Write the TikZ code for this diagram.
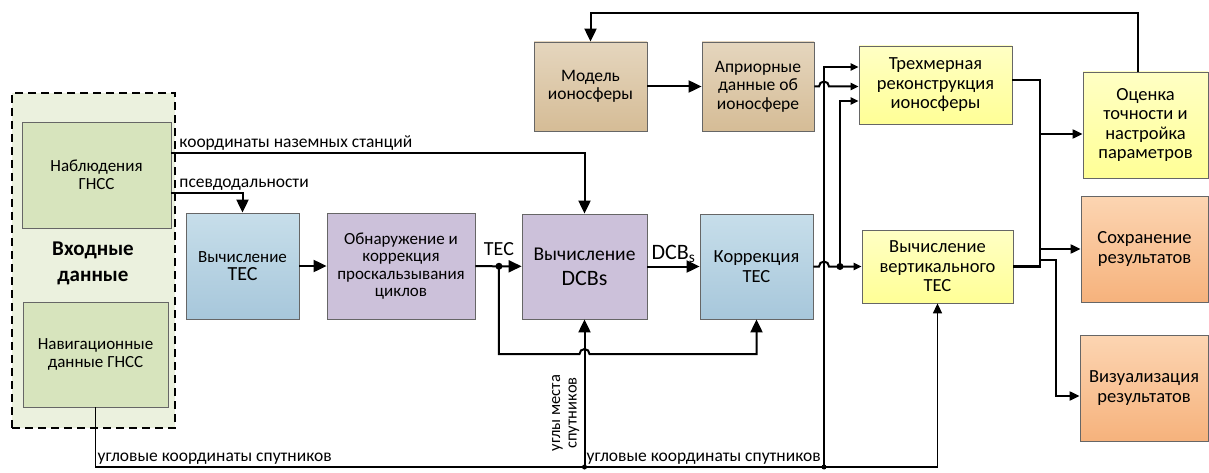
\documentclass[tikz,border=0pt]{standalone}
\usepackage{fontspec}
\setmainfont{Carlito}
\usetikzlibrary{arrows.meta}

\definecolor{zelen}{HTML}{D7E4BD}
\definecolor{zelenfon}{HTML}{EBF1DE}
\definecolor{fiolet}{HTML}{CCC1DA}

\tikzset{
  blok/.style={draw=black!60, line width=0.8pt, inner sep=1pt, align=center, font=\fontsize{17}{17.5}\selectfont},
  blokvr/.style={blok, font=\fontsize{17.5}{18.5}\selectfont},
  blokpr/.style={blok, font=\fontsize{18.5}{19.5}\selectfont},
  goluboy/.style={top color={rgb,255:red,199;green,222;blue,234}, bottom color={rgb,255:red,167;green,199;blue,219}},
  bezh/.style={top color={rgb,255:red,229;green,214;blue,190}, bottom color={rgb,255:red,213;green,188;blue,150}},
  zhelt/.style={top color={rgb,255:red,255;green,255;blue,196}, bottom color={rgb,255:red,255;green,255;blue,150}},
  oranzh/.style={top color={rgb,255:red,252;green,213;blue,178}, bottom color={rgb,255:red,246;green,178;blue,124}},
  strelka/.style={line width=2pt, -{Triangle[length=13pt,width=12pt]}},
  strelkam/.style={line width=2pt, -{Triangle[length=10pt,width=9pt]}},
  strelkas/.style={line width=2pt, -{Triangle[length=8pt,width=7pt]}},
  lbl/.style={font=\fontsize{17.5}{19}\selectfont, inner sep=2pt}
}

\begin{document}
\begin{tikzpicture}[x=1pt,y=-1pt]
      \useasboundingbox (0,0) rectangle (1209,473);
      \node[draw=black, line width=1.2pt, dash pattern=on 8pt off 5pt, fill=zelenfon, minimum width=163pt, minimum height=335pt] (vhod) at (93.5,260.5) {};
      \node[blok, fill=zelen, minimum width=149pt, minimum height=106pt] (nabl) at (96.5,175) {Наблюдения\\ГНСС};
      \node[font=\bfseries\fontsize{21}{26}\selectfont, align=center] (vhodtxt) at (93,263) {Входные\\данные};
      \node[blok, fill=zelen, minimum width=145pt, minimum height=105pt] (nav) at (95.5,354.5) {Навигационные\\данные ГНСС};
      \node[blok, goluboy, minimum width=113pt, minimum height=106pt] (tec) at (242.5,266) {Вычисление\\{\fontsize{20}{24}\selectfont TEC}};
      \node[blok, fill=fiolet, minimum width=148pt, minimum height=106pt] (slip) at (401,266) {Обнаружение и\\коррекция\\проскальзывания\\циклов};
      \node[blok, fill=fiolet, font=\fontsize{19.5}{25}\selectfont, minimum width=125pt, minimum height=105pt] (dcb) at (584.5,266.5) {Вычисление\\{\fontsize{22}{25}\selectfont DCBs}};
      \node[blok, goluboy, font=\fontsize{18.5}{20}\selectfont, minimum width=113pt, minimum height=105pt] (korr) at (756.5,266.5) {Коррекция\\TEC};
      \node[blokvr, bezh, minimum width=113pt, minimum height=89pt] (model) at (590.5,86.5) {Модель\\ионосферы};
      \node[blokvr, bezh, minimum width=112pt, minimum height=89pt] (apr) at (758,86.5) {Априорные\\данные об\\ионосфере};
      \node[blokpr, zhelt, minimum width=153pt, minimum height=78pt] (rec3d) at (935.5,85) {Трехмерная\\реконструкция\\ионосферы};
      \node[blokpr, zhelt, minimum width=151pt, minimum height=73pt] (vtec) at (937.5,266.5) {Вычисление\\вертикального\\TEC};
      \node[blokpr, zhelt, minimum width=125pt, minimum height=106pt] (ocen) at (1145.5,125) {Оценка\\точности и\\настройка\\параметров};
      \node[blokpr, oranzh, minimum width=127pt, minimum height=106pt] (sohr) at (1144.5,249) {Сохранение\\результатов};
      \node[blokpr, oranzh, minimum width=128pt, minimum height=106pt] (viz) at (1144,388) {Визуализация\\результатов};

      \coordinate (lp) at (0,354);
      \coordinate (bl) at (0,467);
      \coordinate (ul) at (0,413);
      \coordinate (vx) at (824,0);
      \coordinate (vx2) at (840,0);
      \coordinate (rb) at (1040,0);
      \coordinate (br) at (1056,260);
      \coordinate (oc) at ([yshift=-9pt]ocen.west);
      \coordinate (vz) at ([yshift=-8pt]viz.west);

      \draw[strelka] ([yshift=22pt]nabl.east) node[lbl, above right, xshift=5pt] {координаты наземных станций} -| (dcb.north);
      \draw[strelka] ([yshift=-18pt]nabl.east) node[lbl, above right, xshift=5pt] {псевдодальности} -| (tec.north);
      \draw[strelka] (tec) -- (slip);
      \draw[strelka] (slip) -- (dcb);
      \path (slip.east) -- (dcb.west) coordinate[pos=0.51] (tj);
      \fill (tj) circle (3.5pt);
      \node[font=\fontsize{20}{22}\selectfont, anchor=south, inner sep=1pt] (teclbl) at ([yshift=9pt]tj) {TEC};
      \path (dcb.south |- lp) ++(-5,0) coordinate (hop1);
      \draw[strelka] (tj) -- (tj |- lp) -- (hop1) arc[start angle=180, end angle=0, radius=5pt] -- (korr.south |- lp) -- (korr.south);
      \draw[strelka] (dcb) -- node[font=\fontsize{22}{24}\selectfont, above, inner sep=3pt] {DCB\textsubscript{s}} (korr);

      \draw[strelka] (model) -- (apr);
      \draw[strelka] (ocen.north) ++(-8,0) -- ++(0,-59) -| (model.north);
      \path (vx |- apr.east) ++(-5,0) coordinate (hop2);
      \draw[strelkas] (apr.east) -- (hop2) arc[start angle=180, end angle=0, radius=5pt] -- (rec3d.west |- apr.east);
      \path (vx |- korr.east) ++(-5,0) coordinate (hop3);
      \draw[strelkas] (korr.east) -- (hop3) arc[start angle=180, end angle=0, radius=5pt] -- (vtec.west);
      \fill (vx2 |- korr.east) circle (3.5pt);
      \draw[strelkas] (vx2 |- korr.east) |- ([yshift=-16pt]rec3d.west);

      \draw[line width=1.5pt, -{Triangle[length=10pt,width=9pt]}] (nav.south) |- (vtec.south |- bl) -- (vtec.south);
      \fill (dcb.south |- bl) circle (2.5pt);
      \fill (vx |- bl) circle (2.5pt);
      \draw[strelka] (dcb.south |- bl) -- (dcb.south);
      \draw[strelkas] (vx |- bl) |- ([yshift=18pt]rec3d.west);
      \node[lbl, anchor=south west] (ugl1) at (nav.south |- bl) {угловые координаты спутников};
      \node[lbl, anchor=south west] (ugl2) at (dcb.south |- bl) {угловые координаты спутников};
      \node[lbl, rotate=90, anchor=south, align=center, font=\fontsize{16.5}{16.5}\selectfont] (ugm) at ([xshift=-3pt]dcb.south |- ul) {углы места\\спутников};

      \draw[line width=2.5pt] ([yshift=5pt]rec3d.east) -| (rb |- vtec.east) -- (vtec.east);
      \draw[strelkam] (rb |- oc) -- (oc);
      \draw[strelkam] (rb |- sohr.west) -- (sohr.west);
      \draw[strelkam] (rb |- br) -- (br) |- (vz);
\end{tikzpicture}
\end{document}
